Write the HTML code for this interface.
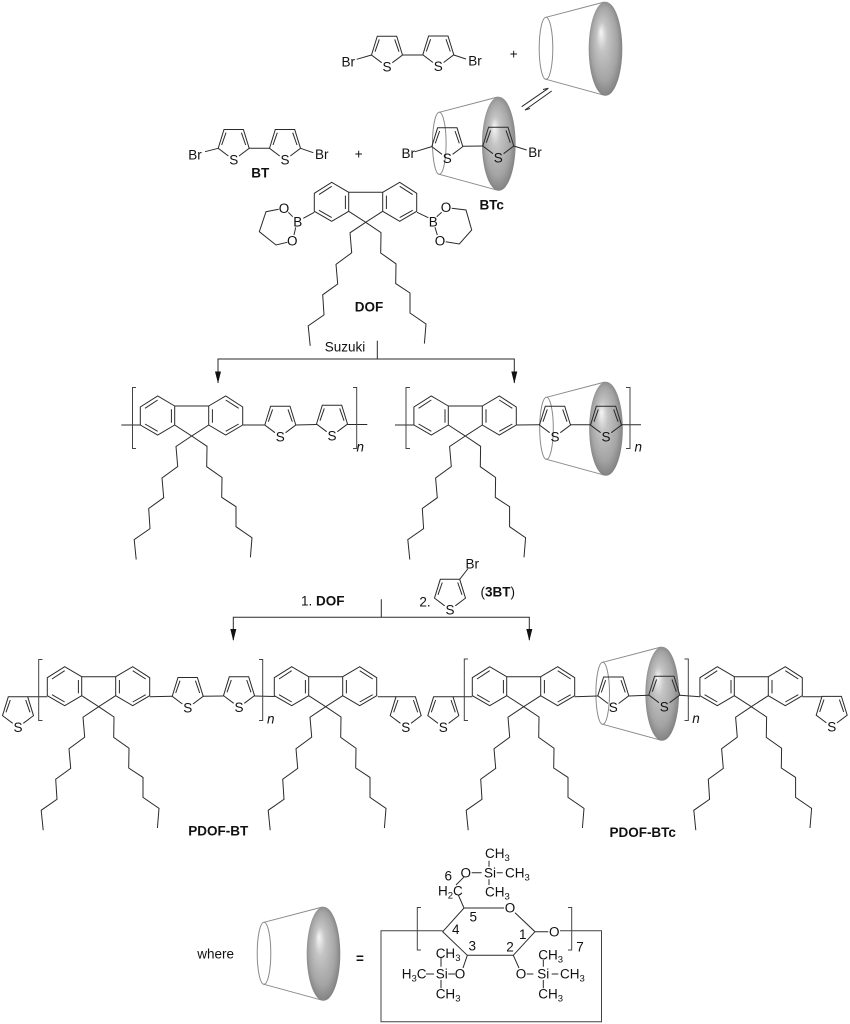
<!DOCTYPE html>
<html><head><meta charset="utf-8"><style>
html,body{margin:0;padding:0;background:#fff;}
svg{display:block;}
text{font-family:"Liberation Sans",sans-serif;font-size:13.5px;fill:#111;text-anchor:middle;}
.s{text-anchor:start;}
.b{font-weight:bold;}
.i{font-style:italic;}
.l{fill:none;stroke:#2a2a2a;stroke-width:1;}
.g{fill:none;stroke:#8a8a8a;stroke-width:1;}
.br{fill:none;stroke:#444;stroke-width:1;}
</style></head><body>
<svg width="850" height="1024" viewBox="0 0 850 1024" xmlns="http://www.w3.org/2000/svg">
<defs>
<radialGradient id="gr" cx=".5" cy=".5" r=".56" fx=".36" fy=".32">
<stop offset="0" stop-color="#f6f6f6"/><stop offset=".28" stop-color="#c4c4c4"/><stop offset=".7" stop-color="#a4a4a4"/><stop offset="1" stop-color="#767676"/>
</radialGradient>
<g id="c">
<ellipse cx="0" cy="0" rx="6.8" ry="31" class="g"/>
<path d="M0,-31L58.5,-46.3M0,31L58.5,47" class="g"/>
<ellipse cx="59.5" cy="0.5" rx="16.8" ry="47" fill="url(#gr)"/>
</g>
<g id="t"><path class="l" d="M-5.3,-4L-15.5,-11.7L-9.7,-30.5L9.7,-30.5L15.5,-11.7L5.3,-4M-12,-15L-7.7,-27.3M12,-15L7.7,-27.3"/></g>
<g id="f"><path class="l" d="M-17,-30L-34,-40L-51.4,-29L-51.4,-11L-34,-1L-17,-11ZM17,-30L34,-40L51,-29L51,-11L34,-1L17,-11ZM-17,-30L17,-30M-17,-11L0,0L17,-11M-46.7,-27.7L-34,-36M-20.3,-26.7L-20.3,-13.3M-46.7,-12L-34,-4.7M20.7,-26.7L20.7,-13.3M34,-36L47,-27.7M34,-4.7L47,-12M0,0L-15.7,10.5L-14,30.5L-29.7,42L-28,61.7L-43,72.5L-41.7,92.6L-57.5,103.6L-55.5,123.5M0,0L15.3,10.3L15,30.7L30.3,41.5L30,61.3L44.3,70.7L44.3,90.7L60.3,101.7L58.7,121.3"/></g>
</defs>

<!-- top BT -->
<use href="#t" x="387" y="66.7"/><use href="#t" x="438.3" y="66.5"/>
<path class="l" d="M356.7,59.3L371.5,55M402.5,55L422.8,55M453.8,55L466,59"/>
<text x="387" y="71.5">S</text><text x="438.3" y="71">S</text>
<text x="348.3" y="66.3">Br</text><text x="475" y="65.6">Br</text>
<text x="513.7" y="58.5">+</text>
<use href="#c" x="546" y="48.3"/>
<path class="l" d="M521.7,106.7L548.3,88.3L543,89.5M551.7,91L525,110L530,108.5"/>

<!-- BT -->
<use href="#t" x="233.7" y="160"/><use href="#t" x="285" y="160"/>
<path class="l" d="M205,151.7L218.2,148.3M249.2,148.3L269.5,148.3M300.5,148.3L313.3,152.7"/>
<text x="233.7" y="164.6">S</text><text x="285" y="164.6">S</text>
<text x="195" y="159.6">Br</text><text x="321.7" y="158.9">Br</text>
<text class="b" x="260.3" y="177.3">BT</text>
<text x="358.7" y="158.5">+</text>

<!-- BTc complex -->
<use href="#c" x="439.3" y="143.3"/>
<use href="#t" x="447.3" y="158.3"/><use href="#t" x="498.3" y="157.7"/>
<path class="l" d="M415,151.7L431.8,146.6M462.8,146.3L482.8,146M513.8,146L526.7,150"/>
<text x="447.3" y="162.9">S</text><text x="498.3" y="162.3">S</text>
<text x="408.3" y="157.9">Br</text><text x="535" y="156.9">Br</text>
<text class="b" x="491.7" y="209.6">BTc</text>

<!-- DOF -->
<use href="#f" x="365.7" y="222.3"/>
<path class="l" d="M314.3,212.3L303.3,218.3M292.7,216.7L288.3,212.3M295.7,227.3L294,235M278.7,209.3L266,211.7L259.3,231.7L276,245L287.3,242.3M417,212.3L428.3,217.7M436.7,216.7L441.7,212.3M435,227.3L437.3,235M451.7,208.3L466,210L471.7,230L459.3,244L445.7,241.7"/>
<text x="297.7" y="226.3">B</text><text x="284" y="212.9">O</text><text x="292.3" y="245.3">O</text>
<text x="433.3" y="226.3">B</text><text x="446" y="211.9">O</text><text x="440" y="245.3">O</text>
<text class="b" x="369" y="311.3">DOF</text>

<!-- Suzuki arrows -->
<text x="345" y="351.3">Suzuki</text>
<path class="l" d="M377.3,340.7V359M218,383V359H514.3V383"/>
<polygon points="215,371.5 221,371.5 218,383.5" fill="#111"/>
<polygon points="511.3,371.5 517.3,371.5 514.3,383.5" fill="#111"/>

<!-- Polymer A -->
<use href="#f" x="191.7" y="436"/>
<use href="#t" x="280.3" y="436.7"/><use href="#t" x="332" y="435.7"/>
<path class="l" d="M121.3,425L140.3,425M242.7,425L264.8,425M295.8,425L316.5,424.5M347.5,424.5L367.3,424.5"/>
<text x="280.3" y="441.3">S</text><text x="332" y="440.3">S</text>
<path class="br" d="M136,387.5H132.5V448.5H136M353,387.5H356.7V448.5H353"/>
<text class="i" x="360.3" y="451.3">n</text>

<!-- Polymer B -->
<use href="#f" x="465.3" y="436"/>
<use href="#c" x="546.5" y="428.3"/>
<use href="#t" x="555" y="436.7"/><use href="#t" x="606" y="436.7"/>
<path class="l" d="M395,425L414,425M516.3,425L539.5,424.7M570.5,424.7L590.5,424.7M621.5,424.7L641,424.7"/>
<text x="555" y="441.3">S</text><text x="606" y="441.3">S</text>
<path class="br" d="M410,387.5H406V448.5H410M626,387.5H630V448.5H626"/>
<text class="i" x="638.3" y="451.3">n</text>

<!-- Second arrows -->
<text x="322.7" y="605.3">1. <tspan font-weight="bold">DOF</tspan></text>
<text x="425" y="606.3">2.</text>
<use href="#t" x="450" y="609.8"/>
<path class="l" d="M459.7,579.3L467.7,569"/>
<text x="450" y="614.4">S</text><text x="472.3" y="568.6">Br</text>
<text x="497.7" y="596.3">(<tspan font-weight="bold">3BT</tspan>)</text>
<path class="l" d="M381.3,599.3V617.3M233.3,640V617.3H529.3V640"/>
<polygon points="230.3,629 236.3,629 233.3,641" fill="#111"/>
<polygon points="526.3,629 532.3,629 529.3,641" fill="#111"/>

<!-- PDOF-BT -->
<use href="#t" x="18" y="727.3"/>
<text x="18" y="731.9">S</text>
<use href="#f" x="98.7" y="706.7"/>
<use href="#t" x="187.7" y="708"/><use href="#t" x="239" y="707.3"/>
<path class="l" d="M27.7,696.8L47.3,696.8M149.7,696.7L172.2,696.3M203.2,696.3L223.5,696M254.5,696L274.7,696.5M377.7,696.7L396.3,696.7"/>
<text x="187.7" y="712.6">S</text><text x="239" y="711.9">S</text>
<path class="br" d="M42.5,659.5H38.7V720.5H42.5M259,659.5H262.7V720.5H259"/>
<text class="i" x="270.7" y="723.5">n</text>
<use href="#f" x="325.7" y="706.7"/>
<use href="#t" x="405.7" y="727.3"/>
<text x="405.7" y="731.9">S</text>
<text class="b" x="218.3" y="835.6">PDOF-BT</text>

<!-- PDOF-BTc -->
<use href="#t" x="443.3" y="727.3"/>
<text x="443.3" y="731.9">S</text>
<use href="#f" x="523.7" y="706.7"/>
<use href="#c" x="602.7" y="693.3"/>
<use href="#t" x="613.3" y="707.5"/><use href="#t" x="664.3" y="706.7"/>
<path class="l" d="M453,696.8L472.3,696.8M574.7,696.7L597.8,696M628.8,696L648.8,695.3M679.8,695.3L700,696.7M802.3,696.7L822,696.7"/>
<text x="613.3" y="712.1">S</text><text x="664.3" y="711.3">S</text>
<path class="br" d="M468,659H464.3V720.5H468M684.5,659H688.3V720.5H684.5"/>
<text class="i" x="696" y="723">n</text>
<use href="#f" x="751.3" y="706.7"/>
<use href="#t" x="831.7" y="726.9"/>
<text x="831.7" y="731.3">S</text>
<text class="b" x="642.7" y="836.9">PDOF-BTc</text>

<!-- where -->
<text x="215.7" y="958.6">where</text>
<use href="#c" x="264" y="953.3"/>
<text class="b" x="360" y="963">=</text>

<!-- sugar -->
<path class="l" d="M504,908L464,908L442.7,931.7L467.3,955.3L513.3,955.3L535,931.7L515,912.7M535,931.7L548.3,931.7M464,908L458.3,895M456,885L464.3,876.7M471.7,872.7L481.7,872.7M496.7,872.7L502.7,872.7M489,860.7L489,866.7M489,879.3L489,885M467.3,955.3L463,968M448.3,974L455,974M426,974L434,974M441,958L441,966.7M441,980L441,988.3M513.3,955.3L519,968M526.7,974L533.3,974M543.3,960L543.3,966.7M543.3,980L543.3,988.3M551.7,974L558.3,974"/>
<path class="br" d="M442.7,930.7H381V1021.7H601.5V930.7H560"/>
<path class="br" d="M421,907.5H417.3V950H421M568,907.5H571.7V950H568"/>
<text x="510" y="912.6">O</text><text x="554.3" y="936.3">O</text>
<text x="580" y="951.3">7</text>
<text x="522.7" y="938.9">1</text><text x="510" y="951.3">2</text><text x="472.3" y="950.3">3</text><text x="455.7" y="933.9">4</text><text x="473.3" y="921.3">5</text><text x="448.3" y="880.3">6</text>
<text class="s" x="438" y="895.3">H<tspan font-size="9.5" dy="3">2</tspan><tspan dy="-3">C</tspan></text>
<text x="465.7" y="877.3">O</text><text x="490" y="877.3">Si</text>
<text class="s" x="505" y="877.3">CH<tspan font-size="9.5" dy="3">3</tspan></text>
<text class="s" x="485" y="857.9">CH<tspan font-size="9.5" dy="3">3</tspan></text>
<text class="s" x="485" y="896.3">CH<tspan font-size="9.5" dy="3">3</tspan></text>
<text x="460" y="978.6">O</text><text x="441.7" y="978.6">Si</text>
<text class="s" x="401.7" y="978.6">H<tspan font-size="9.5" dy="3">3</tspan><tspan dy="-3">C</tspan></text>
<text class="s" x="435.7" y="957.9">CH<tspan font-size="9.5" dy="3">3</tspan></text>
<text class="s" x="435.7" y="998.6">CH<tspan font-size="9.5" dy="3">3</tspan></text>
<text x="521" y="978.6">O</text><text x="543.3" y="978.6">Si</text>
<text class="s" x="560" y="978.6">CH<tspan font-size="9.5" dy="3">3</tspan></text>
<text class="s" x="538.3" y="959.6">CH<tspan font-size="9.5" dy="3">3</tspan></text>
<text class="s" x="538.3" y="998.6">CH<tspan font-size="9.5" dy="3">3</tspan></text>
</svg>
</body></html>
